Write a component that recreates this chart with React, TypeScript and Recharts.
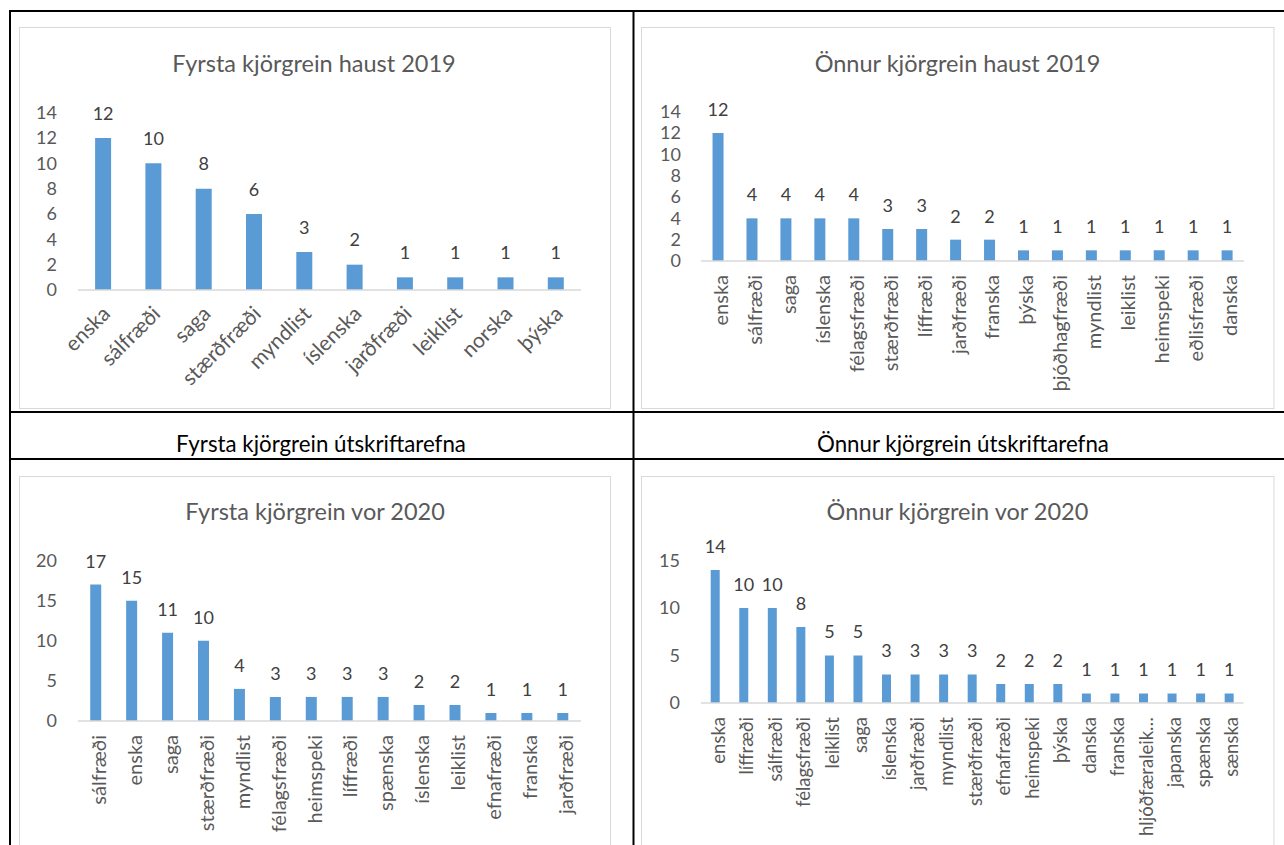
import React from 'react';
import { BarChart, Bar, XAxis, YAxis, LabelList } from 'recharts';

const FONT = 'Lato, "Open Sans", "DejaVu Sans", sans-serif';
const BAR_COLOR = '#5b9bd5';
const AXIS_TEXT = '#595959';
const LABEL_TEXT = '#404040';

// Chart 1: Fyrsta kjörgrein haust 2019
const haust1Title = 'Fyrsta kjörgrein haust 2019';
const haust1Cats = ['enska', 'sálfræði', 'saga', 'stærðfræði', 'myndlist', 'íslenska', 'jarðfræði', 'leiklist', 'norska', 'þýska'];
const haust1Vals = [12, 10, 8, 6, 3, 2, 1, 1, 1, 1];
const haust1Ticks = [0, 2, 4, 6, 8, 10, 12, 14];

// Chart 2: Önnur kjörgrein haust 2019
const haust2Title = 'Önnur kjörgrein haust 2019';
const haust2Cats = ['enska', 'sálfræði', 'saga', 'íslenska', 'félagsfræði', 'stærðfræði', 'líffræði', 'jarðfræði', 'franska', 'þýska', 'þjóðhagfræði', 'myndlist', 'leiklist', 'heimspeki', 'eðlisfræði', 'danska'];
const haust2Vals = [12, 4, 4, 4, 4, 3, 3, 2, 2, 1, 1, 1, 1, 1, 1, 1];
const haust2Ticks = [0, 2, 4, 6, 8, 10, 12, 14];

// Chart 3: Fyrsta kjörgrein vor 2020
const vor1Title = 'Fyrsta kjörgrein vor 2020';
const vor1Cats = ['sálfræði', 'enska', 'saga', 'stærðfræði', 'myndlist', 'félagsfræði', 'heimspeki', 'líffræði', 'spænska', 'íslenska', 'leiklist', 'efnafræði', 'franska', 'jarðfræði'];
const vor1Vals = [17, 15, 11, 10, 4, 3, 3, 3, 3, 2, 2, 1, 1, 1];
const vor1Ticks = [0, 5, 10, 15, 20];

// Chart 4: Önnur kjörgrein vor 2020
const vor2Title = 'Önnur kjörgrein vor 2020';
const vor2Cats = ['enska', 'líffræði', 'sálfræði', 'félagsfræði', 'leiklist', 'saga', 'íslenska', 'jarðfræði', 'myndlist', 'stærðfræði', 'efnafræði', 'heimspeki', 'þýska', 'danska', 'franska', 'hljóðfæraleik…', 'japanska', 'spænska', 'sænska'];
const vor2Vals = [14, 10, 10, 8, 5, 5, 3, 3, 3, 3, 2, 2, 2, 1, 1, 1, 1, 1, 1];
const vor2Ticks = [0, 5, 10, 15];

// Table headers
const header1 = 'Fyrsta kjörgrein útskriftarefna';
const header2 = 'Önnur kjörgrein útskriftarefna';

const toRows = (cats: string[], vals: number[]) => cats.map((c, i) => ({ name: c, value: vals[i] }));

const NUM_FONT = 18;

const VerticalTick = (props: any) => {
  const { x, y, payload, fs } = props;
  return (
    <text
      x={x}
      y={y}
      dy={fs * 0.5}
      transform={`rotate(-90, ${x}, ${y})`}
      textAnchor="end"
      fontSize={fs}
      fontFamily={FONT}
      fill={AXIS_TEXT}
    >
      {payload.value}
    </text>
  );
};

const AngledTick = (props: any) => {
  const { x, y, payload, fs } = props;
  const ax = x + 3;
  return (
    <text
      x={ax}
      y={y}
      dy={fs * 0.35}
      transform={`rotate(-45, ${ax}, ${y})`}
      textAnchor="end"
      fontSize={fs}
      fontFamily={FONT}
      fill={AXIS_TEXT}
    >
      {payload.value}
    </text>
  );
};

type PanelProps = {
  left: number;
  top: number;
  width: number;
  height: number;
  marginTop: number;
  marginRight: number;
  yWidth: number;
  yTickMargin: number;
  xHeight: number;
  xTickMargin: number;
  cats: string[];
  vals: number[];
  ticks: number[];
  angled?: boolean;
  catFont: number;
  labelOffset: number;
};

const Panel = (p: PanelProps) => {
  const data = toRows(p.cats, p.vals);
  const maxTick = p.ticks[p.ticks.length - 1];
  return (
    <div style={{ position: 'absolute', left: p.left, top: p.top, width: p.width, height: p.height }}>
      <BarChart
        width={p.width}
        height={p.height}
        data={data}
        margin={{ top: p.marginTop, right: p.marginRight, left: 0, bottom: 0 }}
        barCategoryGap="34%"
      >
        <XAxis
          dataKey="name"
          interval={0}
          tickLine={false}
          tickSize={0}
          tickMargin={p.xTickMargin}
          height={p.xHeight}
          axisLine={{ stroke: '#d9d9d9', strokeWidth: 1.5 }}
          tick={(tp: any) =>
            p.angled ? <AngledTick {...tp} fs={p.catFont} /> : <VerticalTick {...tp} fs={p.catFont} />
          }
        />
        <YAxis
          width={p.yWidth}
          domain={[0, maxTick]}
          ticks={p.ticks}
          interval={0}
          axisLine={false}
          tickLine={false}
          tickSize={0}
          tickMargin={p.yTickMargin}
          tick={{ fill: AXIS_TEXT, fontSize: NUM_FONT, fontFamily: FONT }}
        />
        <Bar dataKey="value" fill={BAR_COLOR} isAnimationActive={false}>
          <LabelList
            dataKey="value"
            position="top"
            offset={p.labelOffset}
            fill={LABEL_TEXT}
            fontSize={NUM_FONT}
            fontFamily={FONT}
          />
        </Bar>
      </BarChart>
    </div>
  );
};

export default function App() {
  const titleFs = 23.5;
  const headerFs = 22.3;
  return (
    <div
      style={{
        position: 'fixed',
        left: 0,
        top: 0,
        width: 1284,
        height: 845,
        overflow: 'hidden',
        background: '#ffffff',
      }}
    >
      <svg width={1284} height={845} style={{ position: 'absolute', left: 0, top: 0 }}>
        {/* chart frames */}
        <rect x={19.5} y={27.5} width={591} height={381} fill="none" stroke="#d9d9d9" strokeWidth={1} />
        <rect x={641.5} y={27.5} width={632.5} height={381} fill="none" stroke="#d9d9d9" strokeWidth={1} />
        <rect x={19.5} y={476.5} width={591} height={420} fill="none" stroke="#d9d9d9" strokeWidth={1} />
        <rect x={641.5} y={476.5} width={632.5} height={420} fill="none" stroke="#d9d9d9" strokeWidth={1} />
        {/* table lines */}
        <rect x={9} y={10} width={1280} height={2} fill="#000" />
        <rect x={9} y={10} width={2} height={840} fill="#000" />
        <rect x={632.5} y={10} width={2} height={840} fill="#000" />
        <rect x={9} y={411} width={1280} height={2} fill="#000" />
        <rect x={9} y={458} width={1280} height={2} fill="#000" />
        {/* chart titles */}
        <text x={314} y={71.5} textAnchor="middle" fontSize={titleFs} fontFamily={FONT} fill={AXIS_TEXT}>{haust1Title}</text>
        <text x={957.5} y={71.5} textAnchor="middle" fontSize={titleFs} fontFamily={FONT} fill={AXIS_TEXT}>{haust2Title}</text>
        <text x={315} y={520} textAnchor="middle" fontSize={titleFs} fontFamily={FONT} fill={AXIS_TEXT}>{vor1Title}</text>
        <text x={957.5} y={520} textAnchor="middle" fontSize={titleFs} fontFamily={FONT} fill={AXIS_TEXT}>{vor2Title}</text>
        {/* table headers */}
        <text x={321} y={451.5} textAnchor="middle" fontSize={headerFs} fontFamily={FONT} fill="#000">{header1}</text>
        <text x={963} y={451.5} textAnchor="middle" fontSize={headerFs} fontFamily={FONT} fill="#000">{header2}</text>
      </svg>

      <Panel
        left={19} top={27} width={592} height={381}
        marginTop={85.7} marginRight={30} yWidth={59} yTickMargin={21}
        xHeight={118} xTickMargin={20}
        cats={haust1Cats} vals={haust1Vals} ticks={haust1Ticks}
        angled catFont={21} labelOffset={18.5}
      />
      <Panel
        left={642} top={27} width={632} height={381}
        marginTop={84.7} marginRight={30} yWidth={59} yTickMargin={20}
        xHeight={147} xTickMargin={14}
        cats={haust2Cats} vals={haust2Vals} ticks={haust2Ticks}
        catFont={20} labelOffset={17}
      />
      <Panel
        left={19} top={476} width={592} height={369}
        marginTop={84.5} marginRight={30} yWidth={59} yTickMargin={21}
        xHeight={124} xTickMargin={14}
        cats={vor1Cats} vals={vor1Vals} ticks={vor1Ticks}
        catFont={20} labelOffset={17}
      />
      <Panel
        left={642} top={476} width={632} height={369}
        marginTop={84.5} marginRight={30.5} yWidth={59} yTickMargin={21}
        xHeight={142} xTickMargin={14}
        cats={vor2Cats} vals={vor2Vals} ticks={vor2Ticks}
        catFont={18.5} labelOffset={17.5}
      />
    </div>
  );
}
